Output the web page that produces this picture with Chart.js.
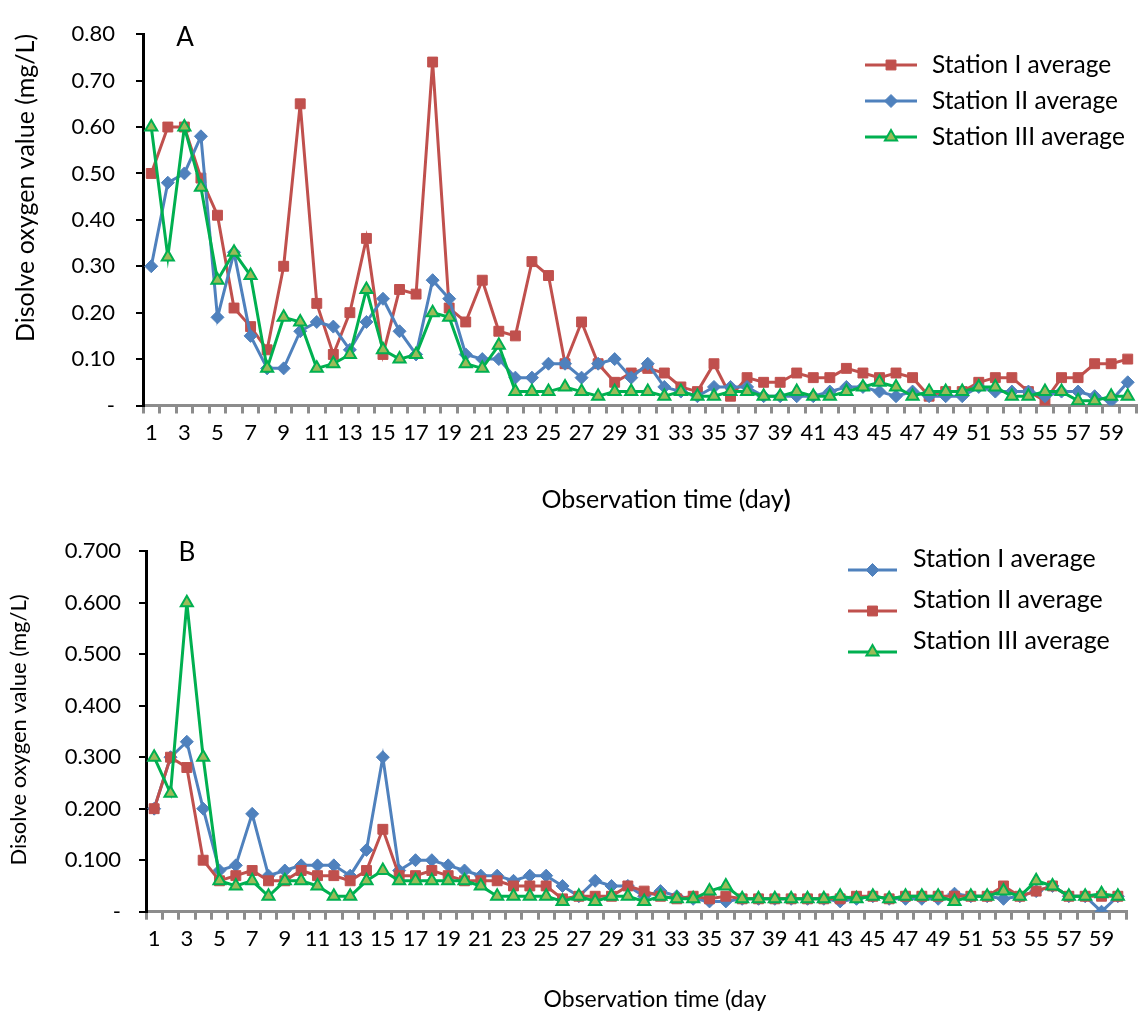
<!DOCTYPE html>
<html>
<head>
<meta charset="utf-8">
<script src="https://cdn.jsdelivr.net/npm/chart.js@4.4.0/dist/chart.umd.min.js"></script>
<style>
  body { margin: 0; background: #fff; overflow: hidden; }
  .panel { position: absolute; left: 0; }
  #wrapA { top: 0; width: 1145px; height: 520px; }
  #wrapB { top: 520px; width: 1141px; height: 496px; }
</style>
</head>
<body>
<div class="panel" id="wrapA"><canvas id="chartA"></canvas></div>
<div class="panel" id="wrapB"><canvas id="chartB"></canvas></div>
<script>
// observation days 1..60
const days = Array.from({ length: 60 }, (_, i) => String(i + 1));

// Panel A - dissolved oxygen averages (mg/L)
const aStation1 = [0.50, 0.60, 0.60, 0.49, 0.41, 0.21, 0.17, 0.12, 0.30, 0.65,
  0.22, 0.11, 0.20, 0.36, 0.11, 0.25, 0.24, 0.74, 0.21, 0.18,
  0.27, 0.16, 0.15, 0.31, 0.28, 0.09, 0.18, 0.09, 0.05, 0.07,
  0.08, 0.07, 0.04, 0.03, 0.09, 0.02, 0.06, 0.05, 0.05, 0.07,
  0.06, 0.06, 0.08, 0.07, 0.06, 0.07, 0.06, 0.02, 0.03, 0.03,
  0.05, 0.06, 0.06, 0.03, 0.01, 0.06, 0.06, 0.09, 0.09, 0.10];
const aStation2 = [0.30, 0.48, 0.50, 0.58, 0.19, 0.33, 0.15, 0.08, 0.08, 0.16,
  0.18, 0.17, 0.12, 0.18, 0.23, 0.16, 0.11, 0.27, 0.23, 0.11,
  0.10, 0.10, 0.06, 0.06, 0.09, 0.09, 0.06, 0.09, 0.10, 0.06,
  0.09, 0.04, 0.03, 0.02, 0.04, 0.04, 0.04, 0.02, 0.02, 0.02,
  0.02, 0.03, 0.04, 0.04, 0.03, 0.02, 0.03, 0.02, 0.02, 0.02,
  0.04, 0.03, 0.03, 0.03, 0.02, 0.03, 0.03, 0.02, 0.01, 0.05];
const aStation3 = [0.60, 0.32, 0.60, 0.47, 0.27, 0.33, 0.28, 0.08, 0.19, 0.18,
  0.08, 0.09, 0.11, 0.25, 0.12, 0.10, 0.11, 0.20, 0.19, 0.09,
  0.08, 0.13, 0.03, 0.03, 0.03, 0.04, 0.03, 0.02, 0.03, 0.03,
  0.03, 0.02, 0.03, 0.02, 0.02, 0.03, 0.03, 0.02, 0.02, 0.03,
  0.02, 0.02, 0.03, 0.04, 0.05, 0.04, 0.02, 0.03, 0.03, 0.03,
  0.04, 0.04, 0.02, 0.02, 0.03, 0.03, 0.01, 0.01, 0.02, 0.02];

// Panel B
const bStation1 = [0.20, 0.30, 0.33, 0.20, 0.08, 0.09, 0.19, 0.07, 0.08, 0.09,
  0.09, 0.09, 0.07, 0.12, 0.30, 0.08, 0.10, 0.10, 0.09, 0.08,
  0.07, 0.07, 0.06, 0.07, 0.07, 0.05, 0.03, 0.06, 0.05, 0.05,
  0.03, 0.04, 0.03, 0.025, 0.02, 0.02, 0.025, 0.025, 0.025, 0.025,
  0.025, 0.025, 0.02, 0.025, 0.03, 0.025, 0.025, 0.025, 0.025, 0.035,
  0.03, 0.03, 0.025, 0.03, 0.04, 0.05, 0.03, 0.03, 0.00, 0.03];
const bStation2 = [0.20, 0.30, 0.28, 0.10, 0.06, 0.07, 0.08, 0.06, 0.06, 0.08,
  0.07, 0.07, 0.06, 0.08, 0.16, 0.07, 0.07, 0.08, 0.07, 0.06,
  0.06, 0.06, 0.05, 0.05, 0.05, 0.025, 0.03, 0.03, 0.03, 0.05,
  0.04, 0.03, 0.025, 0.03, 0.025, 0.03, 0.025, 0.025, 0.025, 0.025,
  0.025, 0.025, 0.025, 0.03, 0.03, 0.025, 0.03, 0.03, 0.03, 0.03,
  0.03, 0.03, 0.05, 0.03, 0.04, 0.05, 0.03, 0.03, 0.03, 0.03];
const bStation3 = [0.30, 0.23, 0.60, 0.30, 0.06, 0.05, 0.06, 0.03, 0.06, 0.06,
  0.05, 0.03, 0.03, 0.06, 0.08, 0.06, 0.06, 0.06, 0.06, 0.06,
  0.05, 0.03, 0.03, 0.03, 0.03, 0.02, 0.03, 0.02, 0.03, 0.03,
  0.02, 0.03, 0.025, 0.025, 0.04, 0.05, 0.025, 0.025, 0.025, 0.025,
  0.025, 0.025, 0.03, 0.025, 0.03, 0.025, 0.03, 0.03, 0.03, 0.02,
  0.03, 0.03, 0.04, 0.03, 0.06, 0.05, 0.03, 0.03, 0.035, 0.03];

const RED = '#C0504D', BLUE = '#4F81BD', GREEN = '#00B050', OLIVE = '#9BBB59';
const FONT = 'Lato';

Chart.defaults.font.family = FONT;
Chart.defaults.color = '#000';

// series look, Excel style markers
function redSeries(label, data, order) {
  return { label, data, order, borderColor: RED, borderWidth: 3, pointStyle: 'rect',
    pointRadius: 7, pointBackgroundColor: RED, pointBorderColor: RED, pointBorderWidth: 1 };
}
function blueSeries(label, data, order) {
  return { label, data, order, borderColor: BLUE, borderWidth: 3, pointStyle: 'rectRot',
    pointRadius: 6.5, pointBackgroundColor: BLUE, pointBorderColor: BLUE, pointBorderWidth: 1 };
}
function greenSeries(label, data, order) {
  return { label, data, order, borderColor: GREEN, borderWidth: 3, pointStyle: 'triangle',
    pointRadius: 7, pointBackgroundColor: OLIVE, pointBorderColor: GREEN, pointBorderWidth: 2 };
}

// titles, panel letter and legend drawn by hand (legend sits inside plot)
const decor = {
  id: 'decor',
  afterDraw(chart, args, o) {
    const ctx = chart.ctx;
    ctx.save();
    ctx.fillStyle = '#000';
    ctx.textBaseline = 'middle';

    ctx.font = '26px ' + FONT;
    ctx.textAlign = 'center';
    ctx.fillText(o.letter, o.letterX, o.letterY);

    // x title, last part may be bold
    const normal = o.titleSize + 'px ' + FONT;
    const bold = 'bold ' + o.titleSize + 'px ' + FONT;
    ctx.font = normal;
    const w1 = ctx.measureText(o.xTitle).width;
    ctx.font = bold;
    const w2 = o.xTitleBold ? ctx.measureText(o.xTitleBold).width : 0;
    let x0 = o.xTitleX - (w1 + w2) / 2;
    ctx.textAlign = 'left';
    ctx.font = normal;
    ctx.fillText(o.xTitle, x0, o.xTitleY);
    if (o.xTitleBold) {
      ctx.font = bold;
      ctx.fillText(o.xTitleBold, x0 + w1, o.xTitleY);
    }

    // y title
    ctx.save();
    ctx.translate(o.yTitleX, o.yTitleY);
    ctx.rotate(-Math.PI / 2);
    ctx.textAlign = 'center';
    ctx.font = o.yTitleSize + 'px ' + FONT;
    ctx.fillText('Disolve oxygen value (mg/L)', 0, 0);
    ctx.restore();

    // legend
    chart.data.datasets.forEach((ds, i) => {
      const ty = o.legendY[i];
      const sy = ty + o.symbolDy;
      ctx.strokeStyle = ds.borderColor;
      ctx.lineWidth = 3;
      ctx.beginPath();
      ctx.moveTo(o.lineX0, sy);
      ctx.lineTo(o.lineX1, sy);
      ctx.stroke();
      ctx.fillStyle = ds.pointBackgroundColor;
      ctx.strokeStyle = ds.pointBorderColor;
      ctx.lineWidth = ds.pointBorderWidth;
      Chart.helpers.drawPoint(ctx, { pointStyle: ds.pointStyle, radius: ds.pointRadius,
        rotation: 0, borderWidth: ds.pointBorderWidth }, (o.lineX0 + o.lineX1) / 2, sy);
      ctx.fillStyle = '#000';
      ctx.font = o.legendSize + 'px ' + FONT;
      ctx.textAlign = 'left';
      ctx.fillText(ds.label, o.textX, ty);
    });
    ctx.restore();
  }
};

function makeScales(yMax, digits, yWidth, xHeight, yPad) {
  return {
    x: {
      offset: true,
      grid: { offset: true, drawOnChartArea: false, tickLength: 8, color: '#8c8c8c', lineWidth: 3 },
      border: { color: '#8c8c8c', width: 3 },
      ticks: {
        autoSkip: false, maxRotation: 0, padding: 6, font: { size: 22 },
        callback: function(v, i) { return i % 2 === 0 ? this.getLabelForValue(v) : ''; }
      },
      afterFit: (s) => { s.height = xHeight; }
    },
    y: {
      min: 0, max: yMax,
      grid: { drawOnChartArea: false, tickLength: 7, color: '#000', lineWidth: 2 },
      border: { color: '#000', width: 3 },
      ticks: {
        stepSize: 0.1, padding: yPad, font: { size: 22 },
        callback: (v) => v === 0 ? '-' : v.toFixed(digits)
      },
      afterFit: (s) => { s.width = yWidth; }
    }
  };
}

new Chart(document.getElementById('chartA'), {
  type: 'line',
  data: {
    labels: days,
    datasets: [
      redSeries('Station I average', aStation1, 3),
      blueSeries('Station II average', aStation2, 2),
      greenSeries('Station III average', aStation3, 1)
    ]
  },
  options: {
    responsive: true,
    maintainAspectRatio: false,
    animation: false,
    layout: { padding: { top: 21, right: 2, left: 0, bottom: 0 } },
    scales: makeScales(0.8, 2, 143, 114.5, 21),
    plugins: {
      legend: { display: false },
      tooltip: { enabled: false },
      decor: {
        letter: 'A', letterX: 185, letterY: 38,
        xTitle: 'Observation time (day', xTitleBold: ')', xTitleX: 666, xTitleY: 500, titleSize: 25,
        yTitleX: 26, yTitleY: 188, yTitleSize: 25,
        legendY: [65, 101, 137], symbolDy: 0, lineX0: 865, lineX1: 917, textX: 932, legendSize: 24.5
      }
    }
  },
  plugins: [decor]
});

new Chart(document.getElementById('chartB'), {
  type: 'line',
  data: {
    labels: days,
    datasets: [
      blueSeries('Station I average', bStation1, 3),
      redSeries('Station II average', bStation2, 2),
      greenSeries('Station III average', bStation3, 1)
    ]
  },
  options: {
    responsive: true,
    maintainAspectRatio: false,
    animation: false,
    layout: { padding: { top: 25, right: 15, left: 0, bottom: 0 } },
    scales: makeScales(0.7, 3, 146, 104.3, 18),
    plugins: {
      legend: { display: false },
      tooltip: { enabled: false },
      decor: {
        letter: 'B', letterX: 187, letterY: 33,
        xTitle: 'Observation time (day', xTitleBold: '', xTitleX: 655, xTitleY: 480, titleSize: 23,
        yTitleX: 19, yTitleY: 210, yTitleSize: 22,
        legendY: [39, 80, 121], symbolDy: 11, lineX0: 848, lineX1: 897, textX: 913, legendSize: 25
      }
    }
  },
  plugins: [decor]
});
</script>
</body>
</html>
